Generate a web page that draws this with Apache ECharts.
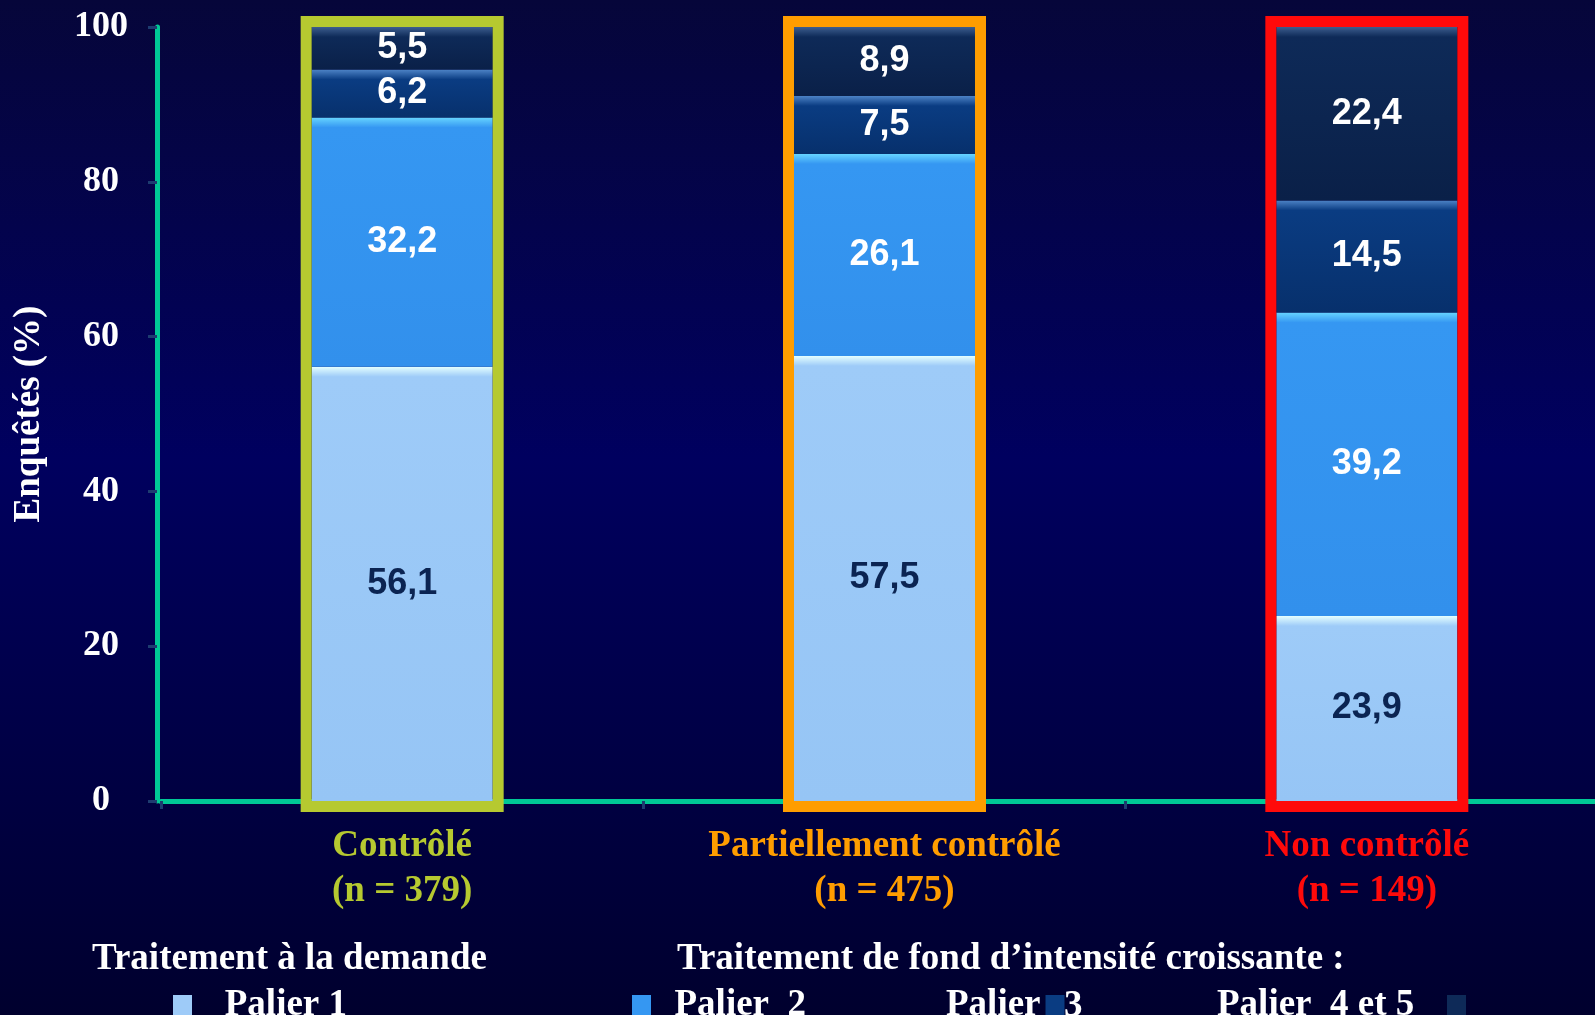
<!DOCTYPE html>
<html><head><meta charset="utf-8">
<style>html,body{margin:0;padding:0;background:#000040;overflow:hidden}#c{width:1595px;height:1015px;}</style>
<script src="https://cdn.jsdelivr.net/npm/echarts@6/dist/echarts.min.js"></script>
</head><body><div id="c"></div>
<script>
// ---- data ----
const categories = ['Contrôlé', 'Partiellement contrôlé', 'Non contrôlé'];
const sampleSizes = [379, 475, 149];
const palier1 = [56.1, 57.5, 23.9];
const palier2 = [32.2, 26.1, 39.2];
const palier3 = [6.2, 7.5, 14.5];
const palier45 = [5.5, 8.9, 22.4];
const seriesNames = ['Palier 1', 'Palier 2', 'Palier 3', 'Palier 4 et 5'];
const yMin = 0, yMax = 100, yStep = 20;

// ---- styles ----
const categoryColors = ['#b6c930', '#ff9d00', '#ff0a0a'];
const serif = "'Liberation Serif','Times New Roman',serif";
const sans = "'Liberation Sans',Arial,sans-serif";
const serifFont = "bold 37px 'Liberation Serif','Times New Roman',serif";
const segStyles = [
  {hi:'#e4ffff', base:'#9ecbf8', low:'#96c5f5', label:'#0b2452'},
  {hi:'#66d4ff', base:'#3597f2', low:'#3290ec', label:'#ffffff'},
  {hi:'#4d83c6', base:'#0a3c82', low:'#07306c', label:'#ffffff'},
  {hi:'#3d5e8e', base:'#0e2a58', low:'#0a2048', label:'#ffffff'}
];
function grad(st, v){
  const f = Math.min(0.3, 10/(v*7.74));
  return new echarts.graphic.LinearGradient(0,0,0,1,[
    {offset:0,color:st.hi},{offset:f,color:st.base},{offset:1,color:st.low}]);
}
const allSeries = [palier1, palier2, palier3, palier45];
const totals = categories.map((c,i)=>allSeries.reduce((s,a)=>s+a[i],0));

const chart = echarts.init(document.getElementById('c'), null, {renderer:'canvas'});
const barSeries = allSeries.map((arr,i)=>({
  name: seriesNames[i], type:'bar', stack:'total', barWidth:181, z:2,
  itemStyle:{color: segStyles[i].base},
  label:{show:true, position:'inside', color: segStyles[i].label, fontFamily: sans,
    fontWeight:'bold', fontSize:36, formatter: p => String(p.value).replace('.', ',')},
  emphasis:{disabled:true},
  data: arr.map(v=>({value:v, itemStyle:{color: grad(segStyles[i], v)}}))
}));

const borderSeries = {
  type:'custom', z:10, silent:true,
  data: totals.map((t,i)=>[i, t]),
  renderItem: (params, api) => {
    const top = api.coord([api.value(0), api.value(1)]);
    const bot = api.coord([api.value(0), 0]);
    const w = 192, pad = 5.5;
    return {type:'rect',
      shape:{x: top[0]-w/2, y: top[1]-pad, width: w, height: bot[1]-top[1]+2*pad},
      style:{fill:'none', stroke: categoryColors[params.dataIndex], lineWidth: 11}};
  }
};

const legendText = {color:'#ffffff', fontFamily: serif, fontWeight:'bold', fontSize:37, lineHeight:37};
const legendBase = {top:987, padding:0, itemWidth:19, itemHeight:21, icon:'rect', textStyle: legendText, selectedMode:false};

chart.setOption({
  animation:false,
  backgroundColor: new echarts.graphic.LinearGradient(0,0,0,1,[
    {offset:0,color:'#06063a'},{offset:0.45,color:'#00005f'},{offset:1,color:'#00002e'}]),
  grid:{left:161, right:-13, top:27, bottom:214, containLabel:false, outerBoundsMode:'none'},
  xAxis:{
    type:'category',
    data: categories.map((c,i)=>({value: c + '\n(n = ' + sampleSizes[i] + ')', textStyle:{color: categoryColors[i]}})),
    axisLine:{show:true, lineStyle:{color:'#00c896', width:5}},
    axisTick:{show:true, length:8, lineStyle:{color:'#1d3c70', width:3}},
    axisLabel:{fontFamily: serif, fontWeight:'bold', fontSize:37, lineHeight:45, margin:23, interval:0},
    splitLine:{show:false}
  },
  yAxis:{
    type:'value', min:yMin, max:yMax, interval:yStep, offset:4,
    axisLine:{show:true, lineStyle:{color:'#00c896', width:5}},
    axisTick:{show:true, length:9, lineStyle:{color:'#1d3c70', width:3}},
    axisLabel:{color:'#ffffff', fontFamily: serif, fontWeight:'bold', fontSize:36, align:'center', margin:56, padding:[12,0,0,0]},
    splitLine:{show:false},
    name:'Enquêtés (%)', nameLocation:'middle', nameGap:109, nameRotate:90,
    nameTextStyle:{color:'#ffffff', fontFamily: serif, fontWeight:'bold', fontSize:37}
  },
  legend:[
    Object.assign({}, legendBase, {data:['Palier 1'], left:173, formatter:'   Palier 1'}),
    Object.assign({}, legendBase, {data:['Palier 2'], left:632, formatter:'  Palier  2'}),
    Object.assign({}, legendBase, {data:['Palier 3'], left:946, align:'right', formatter:'Palier'}),
    Object.assign({}, legendBase, {data:['Palier 4 et 5'], left:1217, align:'right', formatter:'Palier  4 et 5   '})
  ],
  graphic:[
    {type:'text', left:92, top:941, style:{text:'Traitement à la demande', fill:'#ffffff', font: serifFont}},
    {type:'text', left:677, top:941, style:{text:'Traitement de fond d’intensité croissante :', fill:'#ffffff', font: serifFont}},
    {type:'text', style:{x:1064, y:1006, verticalAlign:'middle', text:'3', fill:'#ffffff', font: serifFont}}
  ],
  series: barSeries.concat([borderSeries])
});
</script></body></html>
